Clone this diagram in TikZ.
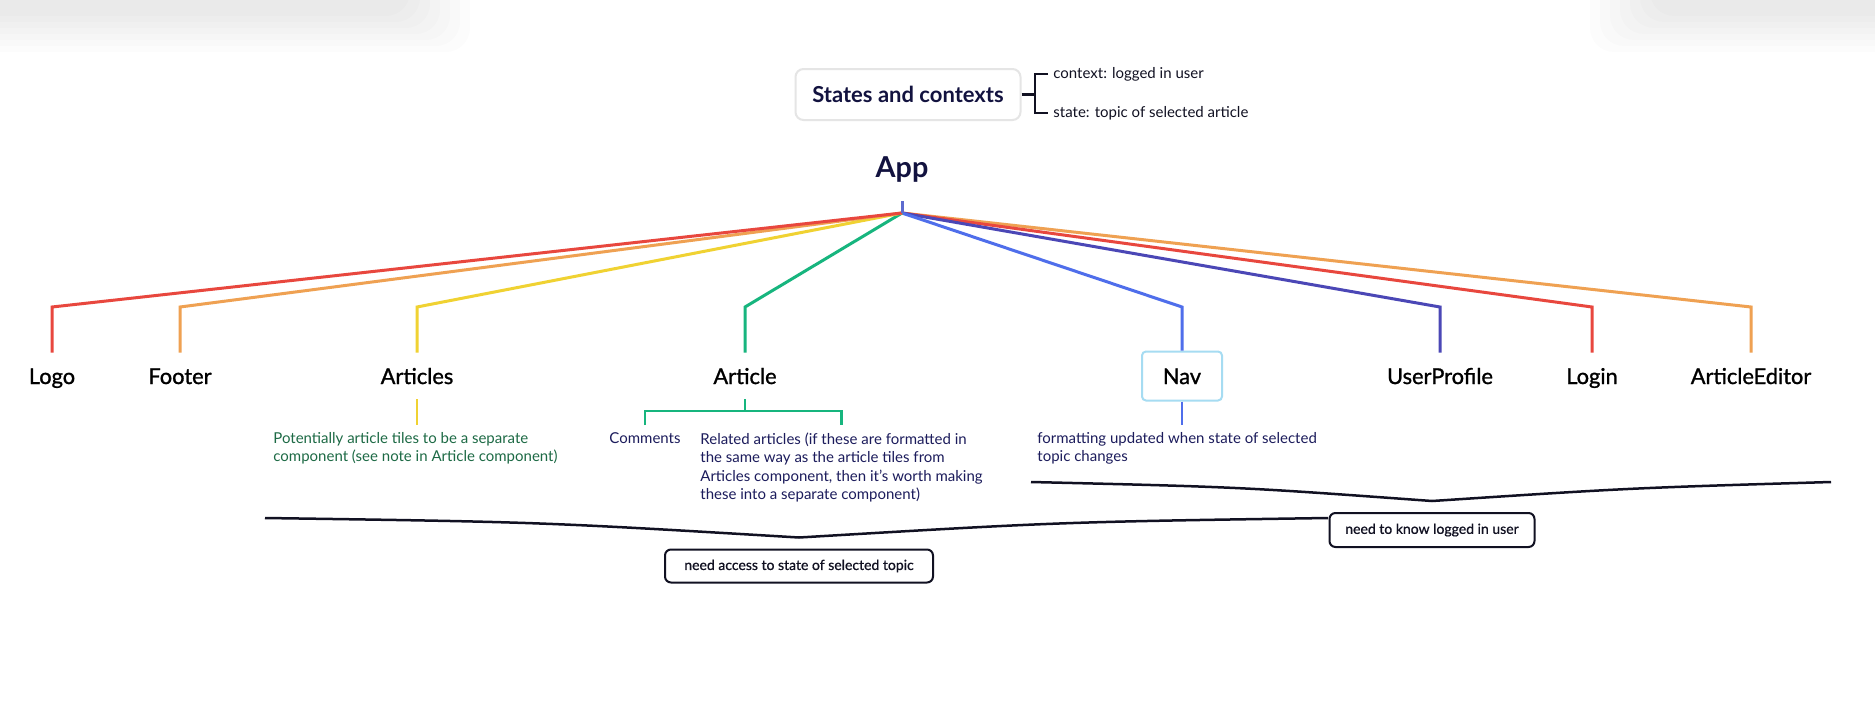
\documentclass[tikz,border=0pt]{standalone}
\usepackage{fontspec}
\setmainfont{Lato}
\newfontfamily\medfont[FakeBold=1.2]{Lato}
\newfontfamily\notefont[FakeBold=0.8]{Lato}
\usetikzlibrary{calc}
\definecolor{cRed}{HTML}{E8473E}
\definecolor{cOrange}{HTML}{EFA152}
\definecolor{cYellow}{HTML}{F0D232}
\definecolor{cGreen}{HTML}{17B57E}
\definecolor{cBlue}{HTML}{4F6EEB}
\definecolor{cIndigo}{HTML}{4B47B6}
\definecolor{cNavy}{HTML}{12123F}
\definecolor{cDGreen}{HTML}{1D6A45}
\definecolor{cDesc}{HTML}{1C1C5C}
\definecolor{cNavBox}{HTML}{A6DCF2}
\definecolor{cStem}{HTML}{5D6BCF}
\definecolor{cInk}{HTML}{111122}
\tikzset{
  wire/.style={line width=1.5pt, line join=miter},
  child/.style={font=\medfont\fontsize{10.9}{12}\selectfont, text=black, anchor=base,
    text height=8.5pt, text depth=0.5pt, inner ysep=7pt, inner xsep=2pt},
  desc/.style={font=\fontsize{7.5}{9.25}\selectfont, align=left, inner xsep=0pt, inner ysep=3.5pt},
  notebox/.style={draw=cInk, line width=1pt, rounded corners=3pt, text=cInk,
    font=\notefont\fontsize{7}{8}\selectfont, inner sep=0pt},
  brace/.style={draw=cInk, line width=1.25pt},
  small/.style={font=\fontsize{7.5}{9}\selectfont, text=cInk, inner xsep=2.5pt}
}
\begin{document}
\begin{tikzpicture}[x=0.5pt,y=-0.5pt]
\useasboundingbox (0,0) rectangle (1875,707);
\fill[white] (0,0) rectangle (1875,707);
% faint window shadows at the top
\foreach \i in {0,...,6}{
  \fill[black, opacity=0.012, rounded corners=12pt] (-30,-30) rectangle (470-\i*10, 52-\i*6);
  \fill[black, opacity=0.012, rounded corners=12pt] (1590+\i*10,-30) rectangle (1905, 52-\i*6);
}

% States and contexts
\node[draw=black!10, line width=1pt, rounded corners=4pt, minimum width=112.5pt, minimum height=25.5pt,
  font=\bfseries\fontsize{11}{12}\selectfont, text=cNavy] (states) at (908,94.5) {States and contexts};
\node[small, anchor=west] (ctx) at (1048,74) {context: logged in user};
\node[small, anchor=west] (st) at (1048,113) {state: topic of selected article};
\coordinate (bm) at (1035,94.5);
\draw[cInk, line width=1.2pt] (states.east) -- (bm);
\draw[cInk, line width=1.2pt] (ctx.west) -| (bm) |- (st.west);

% App
\node[font=\bfseries\fontsize{14.4}{16}\selectfont, text=cNavy, anchor=base] (app) at (902,177) {App};
\coordinate (stemtop) at (902,201);
\coordinate (J) at (902,213);

% children
\node[child] (logo) at (52,384) {Logo};
\node[child] (footer) at (180,384) {Footer};
\node[child] (articles) at (417,384) {Articles};
\node[child] (article) at (745,384) {Article};
\node[child, draw=cNavBox, line width=1pt, rounded corners=2pt, minimum width=40pt, inner ysep=7.75pt] (nav) at (1182,384) {Nav};
\node[child] (userprofile) at (1440,384) {UserProfile};
\node[child] (login) at (1592,384) {Login};
\node[child] (editor) at (1751,384) {ArticleEditor};

% connectors from App
\draw[wire, cOrange] (J) -- (1751,307) -- (editor.north);
\draw[wire, cRed] (J) -- (1592,307) -- (login.north);
\draw[wire, cIndigo] (J) -- (1440,307) -- (userprofile.north);
\draw[wire, cBlue] (J) -- (1182,307) -- (nav.north);
\draw[wire, cGreen] (J) -- (745,307) -- (article.north);
\draw[wire, cYellow] (J) -- (417,307) -- (articles.north);
\draw[wire, cOrange] (J) -- (180,307) -- (footer.north);
\draw[wire, cRed] (J) -- (52,307) -- (logo.north);
\draw[wire, cStem] (stemtop) -- (J);

% descriptions
\node[desc, text=cDGreen, anchor=north west] (artdesc) at (273,425)
  {Potentially article tiles to be a separate\\component (see note in Article component)};
\node[desc, text=cDesc, anchor=north] (comments) at (645,425) {Comments};
\node[desc, text=cDesc, anchor=north west] (related) at (700,425)
  {Related articles (if these are formatted in\\the same way as the article tiles from\\Articles component, then it's worth making\\these into a separate component)};
\node[desc, text=cDesc, anchor=north west] (navdesc) at (1037,425)
  {formatting updated when state of selected\\topic changes};

\draw[line width=1pt, cYellow] (articles.south) -- (articles.south |- artdesc.north);
\draw[line width=1.2pt, cGreen] (article.south) -- (745,411) coordinate (ab);
\draw[line width=1.2pt, cGreen] (comments.north) |- (ab) -| (related.north);
\draw[line width=1pt, cBlue] (nav.south) -- (nav.south |- navdesc.north);

% notes
\node[notebox, minimum width=134pt, minimum height=16.5pt] (access) at (799,566) {need access to state of selected topic};
\node[notebox, minimum width=102.5pt, minimum height=17pt] (know) at (1432,530) {need to know logged in user};

\coordinate (accL) at (265,518);
\coordinate (accR) at (1328,518);
\coordinate (accT) at ($(access.north)+(0,-11)$);
\draw[brace] (accL) .. controls (540,522) .. (accT) .. controls (1060,522) .. (accR);

\coordinate (knL) at (1031,482);
\coordinate (knR) at (1831,482);
\coordinate (knT) at ($(know.north)+(0,-11)$);
\draw[brace] (knL) .. controls (1240,487) .. (knT) .. controls (1630,488) .. (knR);
\end{tikzpicture}
\end{document}
